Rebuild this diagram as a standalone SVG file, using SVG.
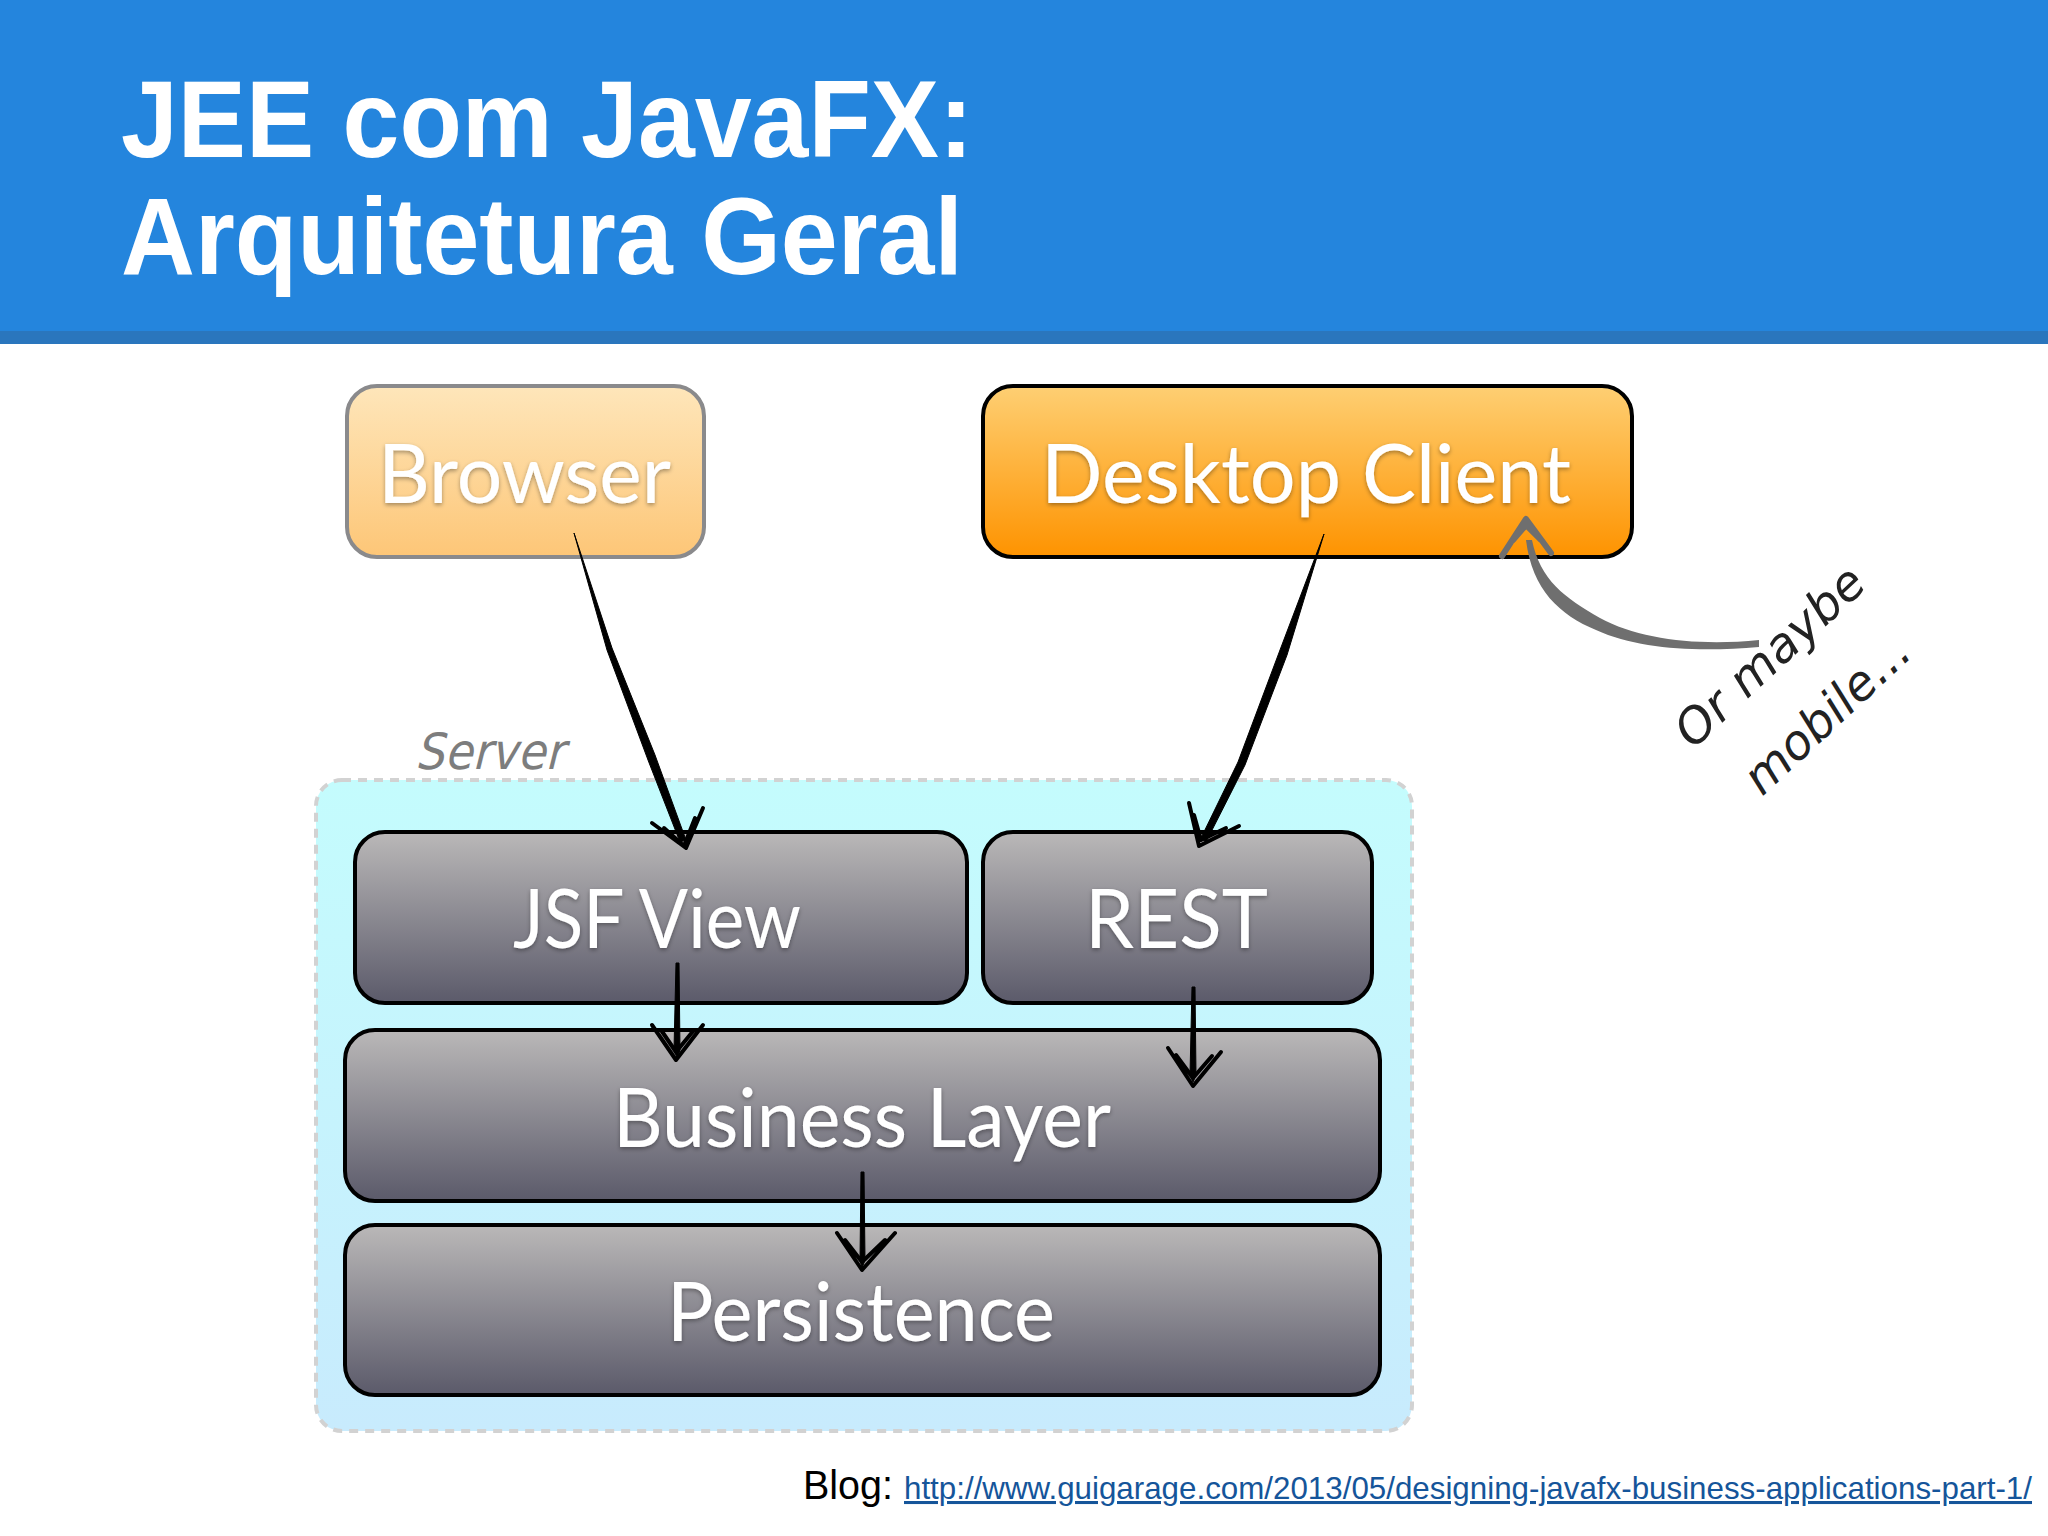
<svg xmlns="http://www.w3.org/2000/svg" width="2048" height="1536" viewBox="0 0 2048 1536">
<style>
.title{font:bold 109px "Liberation Sans",Arial,sans-serif;fill:#fff}
.lbl{font-family:Lato,"Open Sans",sans-serif;font-size:81px;fill:#fff;filter:url(#ts)}
.gbox{fill:url(#gray);stroke:#000;stroke-width:4}
.hand{font-family:"DejaVu Sans",sans-serif;font-style:oblique;font-weight:200}
.ink{fill:#000;stroke:#000;stroke-width:1;stroke-linejoin:round}
.barb{fill:none;stroke:#000;stroke-width:4;stroke-linecap:round;stroke-linejoin:round}
</style>
<defs>
<linearGradient id="gray" x1="0" y1="0" x2="0" y2="1"><stop offset="0" stop-color="#bab8b8"/><stop offset="1" stop-color="#5b5a6a"/></linearGradient>
<linearGradient id="lorange" x1="0" y1="0" x2="0" y2="1"><stop offset="0" stop-color="#fee6ba"/><stop offset="1" stop-color="#fdc677"/></linearGradient>
<linearGradient id="orange" x1="0" y1="0" x2="0" y2="1"><stop offset="0" stop-color="#fecf73"/><stop offset="1" stop-color="#fe9300"/></linearGradient>
<linearGradient id="cyan" x1="0" y1="0" x2="0" y2="1"><stop offset="0" stop-color="#c4fcfd"/><stop offset="1" stop-color="#c8ebfd"/></linearGradient>
<filter id="ts" x="-10%" y="-20%" width="120%" height="150%"><feDropShadow dx="0" dy="2" stdDeviation="2" flood-color="#000" flood-opacity=".35"/></filter>
</defs>
<rect width="2048" height="1536" fill="#fff"/>
<g id="header">
<rect width="2048" height="331" fill="#2485dd"/>
<rect y="331" width="2048" height="13" fill="#2a76bd"/>
<text class="title" x="121" y="157" textLength="852" lengthAdjust="spacingAndGlyphs">JEE com JavaFX:</text>
<text class="title" x="121" y="274" textLength="842" lengthAdjust="spacingAndGlyphs">Arquitetura Geral</text>
</g>
<g id="server">
<rect x="316" y="780" width="1096" height="651" rx="26" fill="url(#cyan)" stroke="#d2d2d2" stroke-width="4" stroke-dasharray="9 7"/>
<text class="hand" transform="translate(418 769) skewX(-4)" font-size="50" fill="#7d7d7d" textLength="148" lengthAdjust="spacingAndGlyphs">Server</text>
</g>
<g id="browser">
<rect x="347" y="386" width="357" height="171" rx="30" fill="url(#lorange)" stroke="#8a8a8c" stroke-width="4"/>
<text class="lbl" x="378" y="503" textLength="293" lengthAdjust="spacingAndGlyphs">Browser</text>
</g>
<g id="desktop-client">
<rect x="983" y="386" width="649" height="171" rx="30" fill="url(#orange)" stroke="#000" stroke-width="4"/>
<text class="lbl" x="1041" y="503" textLength="530" lengthAdjust="spacingAndGlyphs">Desktop Client</text>
</g>
<g id="jsf-view">
<rect class="gbox" x="355" y="832" width="612" height="171" rx="30"/>
<text class="lbl" x="513" y="948" textLength="288" lengthAdjust="spacingAndGlyphs">JSF View</text>
</g>
<g id="rest">
<rect class="gbox" x="983" y="832" width="389" height="171" rx="30"/>
<text class="lbl" x="1085" y="948" textLength="183" lengthAdjust="spacingAndGlyphs">REST</text>
</g>
<g id="business-layer">
<rect class="gbox" x="345" y="1030" width="1035" height="171" rx="30"/>
<text class="lbl" x="613" y="1147" textLength="498" lengthAdjust="spacingAndGlyphs">Business Layer</text>
</g>
<g id="persistence">
<rect class="gbox" x="345" y="1225" width="1035" height="170" rx="30"/>
<text class="lbl" x="667" y="1341" textLength="388" lengthAdjust="spacingAndGlyphs">Persistence</text>
</g>
<g id="connectors">
<path class="ink" d="M574 533 L612 648 L655 755 L686 840 L680 842 L648 760 L607 650 Z"/>
<path class="barb" d="M652 823 L686 848 L703 808 M664 828 L684 846 L695 818"/>
<path class="ink" d="M1324 534 L1287 655 L1245 765 L1206 842 L1201 838 L1238 762 L1280 650 Z"/>
<path class="barb" d="M1189 803 L1199 846 L1239 826 M1194 815 L1201 840 L1226 828"/>
<path class="ink" d="M676 963 L679 963 L680 1050 L677 1058 L674 1050 Z"/>
<path class="barb" d="M652 1025 L676 1060 L703 1025 M661 1030 L676 1052 L694 1030"/>
<path class="ink" d="M1192 987 L1195 987 L1196 1075 L1193 1082 L1190 1075 Z"/>
<path class="barb" d="M1168 1048 L1193 1086 L1221 1052 M1176 1055 L1193 1078 L1212 1056"/>
<path class="ink" d="M861 1172 L864 1172 L865 1260 L862 1268 L860 1260 Z"/>
<path class="barb" d="M837 1233 L862 1270 L895 1233 M845 1240 L862 1262 L885 1240"/>
<path d="M1759 640 C1700 646 1640 640 1600 618 C1565 598 1540 580 1532 540 L1526 540 C1532 590 1560 615 1596 630 C1640 650 1700 652 1759 647 Z" fill="#6f6f6f"/>
<path class="head" d="M1502 556 L1526 519 L1551 553 M1513 540 L1526 525 L1541 540" fill="none" stroke="#6f6f6f" stroke-width="6" stroke-linecap="round" stroke-linejoin="round"/>
</g>
<g id="note">
<text class="hand" transform="translate(1693 750) rotate(-43)" font-size="48" fill="#222" textLength="240" lengthAdjust="spacingAndGlyphs">Or maybe</text>
<text class="hand" transform="translate(1762 797) rotate(-43)" font-size="48" fill="#222" textLength="208" lengthAdjust="spacingAndGlyphs">mobile...</text>
</g>
<g id="footer">
<text x="803" y="1499" font-family="Liberation Sans,Arial,sans-serif" font-size="40" fill="#000" textLength="90" lengthAdjust="spacingAndGlyphs">Blog:</text>
<text x="904" y="1499" font-family="Liberation Sans,Arial,sans-serif" font-size="30.5" fill="#15559a" text-decoration="underline" textLength="1128" lengthAdjust="spacingAndGlyphs">http://www.guigarage.com/2013/05/designing-javafx-business-applications-part-1/</text>
</g>
</svg>
